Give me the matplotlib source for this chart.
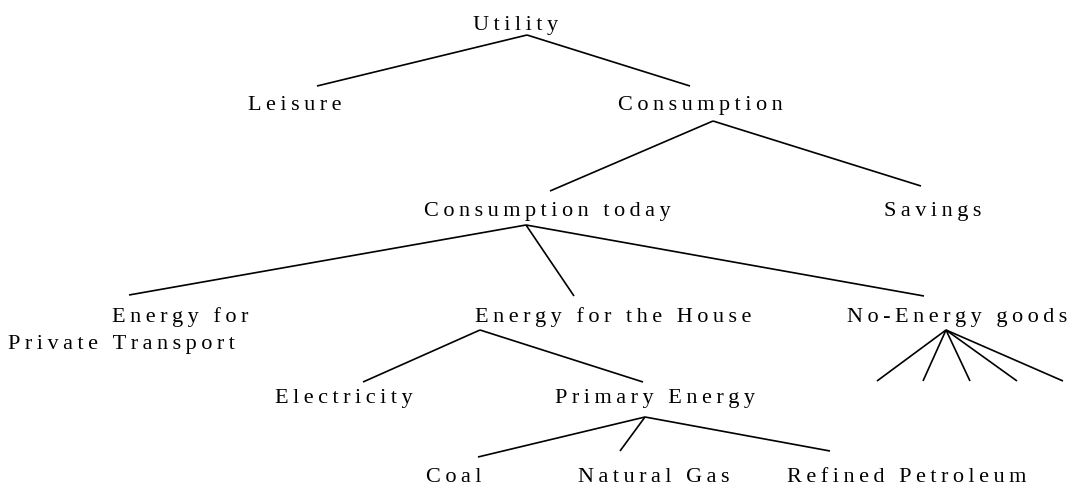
import matplotlib
matplotlib.use("Agg")
import matplotlib.pyplot as plt

# ---- tree content ----
labels = ["Utility", "Leisure", "Consumption", "Consumption today", "Savings",
          "Energy for", "Private Transport", "Energy for the House",
          "No-Energy goods", "Electricity", "Primary Energy",
          "Coal", "Natural Gas", "Refined Petroleum"]

# ---- layout (pixel coordinates, origin top-left) ----
label_x = [516, 295, 700, 547, 933, 180, 121, 613, 957, 344, 655, 454, 654, 907]
label_base = [30, 110, 110, 216, 216, 322, 349, 322, 322, 403, 403, 482, 482, 482]

# edges: (start point, end point) in pixels
edge_x0 = [527, 527, 713, 713, 526, 526, 526, 480, 480, 645, 645, 645,
           946, 946, 946, 946, 946]
edge_y0 = [36, 36, 122, 122, 226, 226, 226, 331, 331, 418, 418, 418,
           331, 331, 331, 331, 331]
edge_x1 = [317, 690, 550, 921, 129, 574, 924, 363, 643, 478, 620, 830,
           877, 923, 970, 1017, 1063]
edge_y1 = [87, 87, 192, 187, 296, 297, 297, 383, 383, 458, 452, 452,
           382, 382, 382, 382, 382]

W, H = 1068, 485
fig = plt.figure(figsize=(W / 100, H / 100), dpi=100)
ax = fig.add_axes([0, 0, 1, 1])
ax.set_xlim(0, W)
ax.set_ylim(H, 0)
ax.axis("off")

for x0, y0, x1, y1 in zip(edge_x0, edge_y0, edge_x1, edge_y1):
    ax.plot([x0, x1], [y0, y1], color="black", lw=1.2, solid_capstyle="butt")

THIN = "\u2009"
for lab, x, yb in zip(labels, label_x, label_base):
    spaced = THIN.join(lab)
    ax.text(x, yb, spaced, ha="center", va="baseline",
            fontsize=16, family=["Liberation Serif", "DejaVu Serif"], color="black")

fig.savefig("out.png", dpi=100, facecolor="white")
